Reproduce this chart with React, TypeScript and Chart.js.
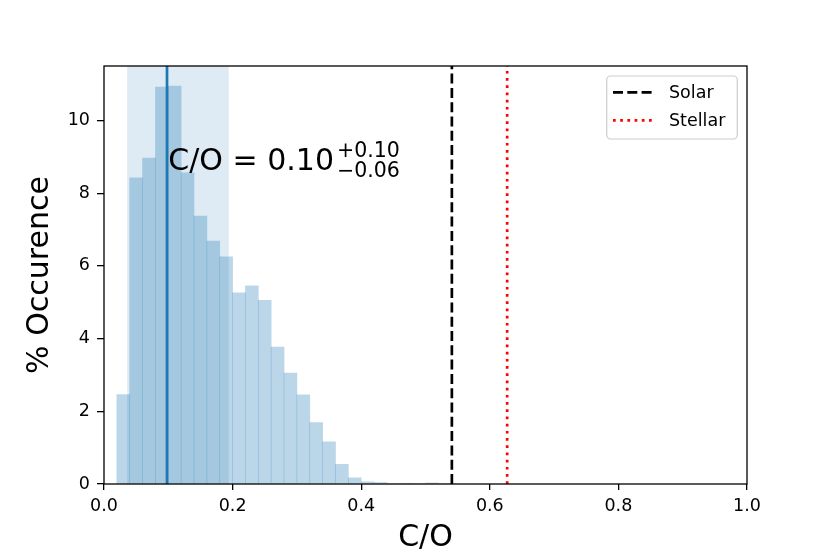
import React, { useEffect, useRef } from 'react';
import { Chart, registerables } from 'chart.js';

Chart.register(...registerables);

// ---- data ----
const binCenters = [
  0.03, 0.05, 0.07, 0.09, 0.11, 0.13, 0.15, 0.17, 0.19, 0.21, 0.23, 0.25, 0.27,
  0.29, 0.31, 0.33, 0.35, 0.37, 0.39, 0.41, 0.43, 0.45, 0.47, 0.49, 0.51, 0.53,
];
const occurrence = [
  2.46, 8.42, 8.97, 10.92, 10.95, 8.56, 7.37, 6.68, 6.25, 5.26, 5.45, 5.05, 3.77,
  3.05, 2.45, 1.69, 1.16, 0.54, 0.17, 0.06, 0.04, 0.0, 0.02, 0.0, 0.03, 0.0,
];
const xTicks = [0, 0.2, 0.4, 0.6, 0.8, 1.0];
const yTicks = [0, 2, 4, 6, 8, 10];
const xRange = [0, 1];
const yRange = [0, 11.5];
const medianCO = 0.098;
const sigmaLow = 0.036;
const sigmaHigh = 0.194;
const solarCO = 0.541;
const stellarCO = 0.627;
const legendLabels = ['Solar', 'Stellar'];
const xTitle = 'C/O';
const yTitle = '% Occurence';
const annotationMain = 'C/O = 0.10';
const annotationUpper = '+0.10';
const annotationLower = '\u22120.06';
const annotationAnchor = { x: 0.1, y: 8.64 };

const FONT = '"DejaVu Sans", "Liberation Sans", sans-serif';
const C0 = 'rgb(31,119,180)';

const overlayPlugin = {
  id: 'overlay',
  beforeDatasetsDraw(chart: any) {
    const { ctx, chartArea: a, scales } = chart;
    const xs = scales.x;
    ctx.save();
    ctx.fillStyle = 'rgba(31,119,180,0.15)';
    const x1 = xs.getPixelForValue(sigmaLow);
    const x2 = xs.getPixelForValue(sigmaHigh);
    ctx.fillRect(x1, a.top, x2 - x1, a.bottom - a.top);
    ctx.restore();
  },
  afterDatasetsDraw(chart: any) {
    const { ctx, chartArea: a, scales } = chart;
    const xs = scales.x;
    const ys = scales.y;
    const vline = (v: number, color: string, width: number, dash: number[]) => {
      const px = xs.getPixelForValue(v);
      ctx.save();
      ctx.strokeStyle = color;
      ctx.lineWidth = width;
      ctx.setLineDash(dash);
      ctx.beginPath();
      ctx.moveTo(px, a.bottom);
      ctx.lineTo(px, a.top);
      ctx.stroke();
      ctx.restore();
    };
    vline(medianCO, C0, 2.7, []);
    vline(solarCO, '#000', 2.7, [10, 4.3]);
    vline(stellarCO, 'rgb(255,0,0)', 2.7, [2.7, 4.5]);

    // frame
    ctx.save();
    ctx.strokeStyle = '#000';
    ctx.lineWidth = 1.3;
    ctx.strokeRect(a.left, a.top, a.right - a.left, a.bottom - a.top);
    ctx.restore();

    // annotation
    ctx.save();
    ctx.fillStyle = '#000';
    ctx.textBaseline = 'alphabetic';
    ctx.textAlign = 'left';
    const ax = xs.getPixelForValue(annotationAnchor.x);
    const ay = ys.getPixelForValue(annotationAnchor.y);
    ctx.font = `30px ${FONT}`;
    ctx.fillText(annotationMain, ax, ay);
    const w = ctx.measureText(annotationMain).width;
    ctx.font = `20.5px ${FONT}`;
    ctx.fillText(annotationUpper, ax + w + 3, ay - 12.7);
    ctx.fillText(annotationLower, ax + w + 3, ay + 6.7);
    ctx.restore();

    // legend
    ctx.save();
    const lx = a.right - 40.3;
    const bx = 606.7 - 747 + a.right;
    const by = a.top + 10;
    const bw = 130.6;
    const bh = 63;
    ctx.beginPath();
    (ctx as any).roundRect(bx, by, bw, bh, 4);
    ctx.fillStyle = 'rgba(255,255,255,0.8)';
    ctx.fill();
    ctx.strokeStyle = 'rgb(204,204,204)';
    ctx.lineWidth = 1.2;
    ctx.stroke();
    const styles = [
      { color: '#000', dash: [10, 4.3] },
      { color: 'rgb(255,0,0)', dash: [2.7, 4.5] },
    ];
    legendLabels.forEach((label, i) => {
      const yy = by + 16.3 + i * 28;
      ctx.save();
      ctx.strokeStyle = styles[i].color;
      ctx.lineWidth = 2.7;
      ctx.setLineDash(styles[i].dash);
      ctx.beginPath();
      ctx.moveTo(bx + 6.3, yy);
      ctx.lineTo(bx + 45.3, yy);
      ctx.stroke();
      ctx.restore();
      ctx.fillStyle = '#000';
      ctx.font = `17.5px ${FONT}`;
      ctx.textBaseline = 'middle';
      ctx.textAlign = 'left';
      ctx.fillText(label, bx + 62.3, yy + 1);
    });
    void lx;
    ctx.restore();
  },
};

export default function App() {
  const ref = useRef<HTMLCanvasElement | null>(null);
  useEffect(() => {
    if (!ref.current) return;
    const chart = new Chart(ref.current, {
      type: 'bar',
      data: {
        datasets: [
          {
            data: binCenters.map((c, i) => ({ x: c, y: occurrence[i] })),
            backgroundColor: 'rgba(31,119,180,0.3)',
            borderWidth: 0,
            barPercentage: 1,
            categoryPercentage: 1,
          },
        ],
      },
      options: {
        responsive: false,
        animation: false,
        events: [],
        layout: { padding: { top: 66, right: 83, left: 0, bottom: 0 } },
        plugins: { legend: { display: false }, tooltip: { enabled: false } },
        scales: {
          x: {
            type: 'linear',
            min: xRange[0],
            max: xRange[1],
            offset: false,
            border: { display: false },
            grid: {
              display: true,
              drawOnChartArea: false,
              drawTicks: true,
              tickLength: 6,
              tickColor: '#000',
              lineWidth: 1.3,
              offset: false,
            },
            afterBuildTicks: (s: any) => {
              s.ticks = xTicks.map((value) => ({ value }));
            },
            afterFit: (s: any) => {
              s.height = 70;
            },
            ticks: {
              color: '#000',
              font: { family: FONT, size: 17.5 },
              padding: 6,
              maxRotation: 0,
              autoSkip: false,
              callback: (v: any) => Number(v).toFixed(1),
            },
            title: {
              display: true,
              text: xTitle,
              color: '#000',
              font: { family: FONT, size: 30, lineHeight: 1 },
              padding: { top: 0, bottom: 0.5 },
            },
          },
          y: {
            type: 'linear',
            min: yRange[0],
            max: yRange[1],
            border: { display: false },
            grid: {
              display: true,
              drawOnChartArea: false,
              drawTicks: true,
              tickLength: 7,
              tickColor: '#000',
              lineWidth: 1.3,
            },
            afterBuildTicks: (s: any) => {
              s.ticks = yTicks.map((value) => ({ value }));
            },
            afterFit: (s: any) => {
              s.width = 104;
            },
            ticks: {
              color: '#000',
              font: { family: FONT, size: 17.5 },
              padding: 7,
              autoSkip: false,
              callback: (v: any) => String(v),
            },
            title: {
              display: true,
              text: yTitle,
              color: '#000',
              font: { family: FONT, size: 30, lineHeight: 1 },
              padding: { top: 25, bottom: 0 },
            },
          },
        },
      },
      plugins: [overlayPlugin],
    } as any);
    return () => chart.destroy();
  }, []);
  return (
    <div style={{ position: 'absolute', left: 0, top: 0, width: 830, height: 554, background: '#fff' }}>
      <canvas ref={ref} width={830} height={554} />
    </div>
  );
}
